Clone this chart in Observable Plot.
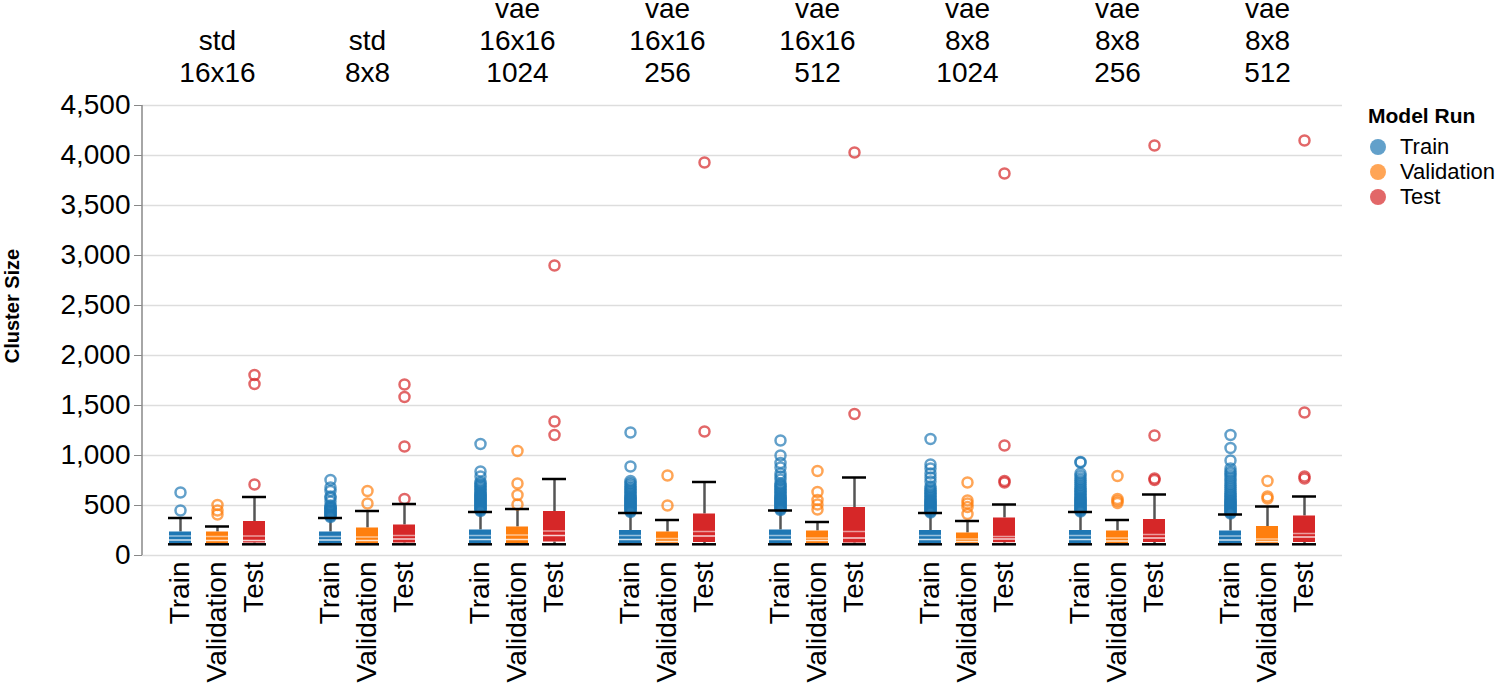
<!DOCTYPE html>
<html>
<head>
<meta charset="utf-8">
<script src="https://cdn.jsdelivr.net/npm/d3@7"></script>
<script src="https://cdn.jsdelivr.net/npm/@observablehq/plot@0.6"></script>
<style>
  body { margin: 0; background: #fff; font-family: "Liberation Sans", Arial, sans-serif; }
  #wrap { position: relative; width: 1502px; height: 690px; overflow: hidden; }
  #chart { position: absolute; left: 0; top: 0; }
  #ylabel { position: absolute; left: 12px; top: 306px; transform: translate(-50%, -50%) rotate(-90deg);
            font-weight: bold; font-size: 20px; white-space: nowrap; color: #000; }
  #legendTitle { position: absolute; left: 1368px; top: 103px; height: 25px; line-height: 25px;
                 font-weight: bold; font-size: 21px; white-space: nowrap; }
  .legItem { position: absolute; left: 1370px; height: 25px; display: flex; align-items: center;
             font-size: 22px; white-space: nowrap; }
  .legItem .sw { width: 16px; height: 16px; border-radius: 50%; margin-right: 14px; opacity: 0.7; }
</style>
</head>
<body>
<div id="wrap">
  <div id="chart"></div>
  <div id="ylabel">Cluster Size</div>
  <div id="legendTitle">Model Run</div>
  <div id="legend"></div>
</div>
<script>
// ---------- data ----------
const facetLabels = ["std\n16x16", "std\n8x8", "vae\n16x16\n1024", "vae\n16x16\n256", "vae\n16x16\n512", "vae\n8x8\n1024", "vae\n8x8\n256", "vae\n8x8\n512"];
const splits = ["Train", "Validation", "Test"];
const colors = ["#1f77b4", "#ff7f0e", "#d62728"];
const yTicks = [0, 500, 1000, 1500, 2000, 2500, 3000, 3500, 4000, 4500];

// per facet: [Train, Validation, Test]
const whiskerLow = [
  [112, 112, 112], [112, 112, 112], [112, 112, 112], [112, 112, 112],
  [112, 112, 112], [112, 112, 112], [112, 112, 112], [112, 112, 112]
];
const q1 = [
  [120, 120, 125], [120, 120, 125], [120, 120, 135], [120, 118, 130],
  [120, 120, 125], [120, 118, 128], [120, 120, 130], [120, 120, 130]
];
const median = [
  [155, 150, 150], [155, 150, 165], [160, 160, 200], [160, 140, 195],
  [160, 150, 175], [160, 140, 165], [160, 145, 175], [155, 140, 185]
];
const innerLine = [
  [195, 190, 195], [190, 185, 200], [200, 205, 245], [200, 170, 240],
  [200, 175, 240], [200, 165, 190], [200, 175, 210], [195, 165, 220]
];
const q3 = [
  [235, 235, 340], [235, 275, 305], [255, 285, 440], [250, 235, 415],
  [255, 245, 480], [250, 225, 375], [250, 245, 360], [245, 290, 395]
];
const whiskerHigh = [
  [375, 290, 585], [375, 445, 515], [435, 465, 765], [425, 355, 735],
  [450, 335, 780], [425, 345, 510], [435, 355, 610], [410, 490, 590]
];

const outliersTrain = [
  [450, 630],
  [385, 395, 405, 415, 425, 435, 445, 455, 465, 475, 485, 500, 540, 575, 590, 645, 680, 755],
  [445, 455, 465, 475, 485, 495, 505, 515, 525, 535, 545, 555, 565, 575, 585, 595, 605, 615, 630, 645, 660, 675, 690, 705, 720, 735, 790, 840, 1115],
  [435, 445, 455, 465, 475, 485, 495, 505, 515, 525, 535, 545, 555, 565, 575, 585, 600, 615, 630, 645, 660, 675, 690, 710, 725, 745, 890, 1230],
  [455, 465, 475, 485, 495, 505, 515, 525, 535, 545, 555, 565, 575, 585, 600, 615, 630, 645, 660, 675, 690, 705, 720, 760, 790, 820, 880, 925, 1000, 1150],
  [430, 440, 450, 460, 470, 480, 490, 500, 510, 520, 530, 540, 550, 560, 575, 590, 605, 620, 635, 650, 670, 690, 740, 780, 820, 870, 910, 1165],
  [440, 450, 460, 470, 480, 490, 500, 510, 520, 530, 540, 550, 560, 570, 580, 595, 610, 625, 640, 655, 670, 690, 710, 730, 750, 770, 795, 820, 930, 935],
  [420, 430, 440, 450, 460, 470, 480, 490, 500, 510, 520, 530, 540, 550, 560, 575, 590, 605, 620, 640, 660, 680, 700, 720, 745, 770, 795, 820, 840, 870, 950, 1075, 1205]
];
const outliersValidation = [
  [410, 450, 505],
  [520, 645],
  [510, 605, 720, 1045],
  [500, 800],
  [460, 510, 555, 635, 845],
  [415, 485, 520, 550, 730],
  [525, 545, 565, 795],
  [570, 590, 745]
];
const outliersTest = [
  [710, 1715, 1805],
  [565, 1090, 1585, 1710],
  [1205, 1340, 2900],
  [1240, 3930],
  [1415, 4030],
  [730, 745, 1100, 3820],
  [755, 770, 1200, 4100],
  [770, 790, 1430, 4150]
];

// ---------- tables ----------
const boxes = [];
facetLabels.forEach((f, i) => splits.forEach((s, j) => boxes.push({
  facet: f, split: s, lo: whiskerLow[i][j], q1: q1[i][j], med: median[i][j],
  inner: innerLine[i][j], q3: q3[i][j], hi: whiskerHigh[i][j]
})));
const outlierSets = [outliersTrain, outliersValidation, outliersTest];
const outliers = [];
facetLabels.forEach((f, i) => splits.forEach((s, j) =>
  outlierSets[j][i].forEach(v => outliers.push({facet: f, split: s, value: v}))));

const ML = 142;
const chart = Plot.plot({
  width: 1350,
  height: 690,
  marginLeft: ML,
  marginRight: 8,
  marginTop: 105,
  marginBottom: 135,
  style: {fontFamily: "Liberation Sans, Arial, sans-serif", fontSize: "28px", background: "white", color: "black"},
  fx: {domain: facetLabels, padding: 0},
  x: {domain: splits, paddingInner: 0.41, paddingOuter: 0.705},
  y: {domain: [0, 4500]},
  color: {domain: splits, range: colors},
  marks: [
    Plot.gridY(yTicks, {stroke: "#ddd", strokeOpacity: 1, strokeWidth: 1.5}),
    Plot.axisY({ticks: yTicks, tickFormat: d3.format(","), fontSize: 28, tickSize: 8, tickPadding: 4, stroke: "#888", strokeOpacity: 1, label: null}),
    Plot.axisX({tickRotate: -90, fontSize: 28, tickSize: 0, tickPadding: 6, label: null}),
    Plot.axisFx({anchor: "top", fontSize: 28, tickSize: 0, tickPadding: 24, lineHeight: 1.14, label: null}),
    Plot.ruleX(boxes, {fx: "facet", x: "split", y1: "lo", y2: "q1", stroke: "#555", strokeWidth: 2.5}),
    Plot.ruleX(boxes, {fx: "facet", x: "split", y1: "q3", y2: "hi", stroke: "#555", strokeWidth: 2.5}),
    Plot.barY(boxes, {fx: "facet", x: "split", y1: "q1", y2: "q3", fill: "split"}),
    Plot.tickY(boxes, {fx: "facet", x: "split", y: "inner", stroke: "white", strokeOpacity: 0.55, strokeWidth: 1.5}),
    Plot.tickY(boxes, {fx: "facet", x: "split", y: "med", stroke: "white", strokeOpacity: 0.8, strokeWidth: 1.5}),
    Plot.dot(outliers, {fx: "facet", x: "split", y: "value", stroke: "split", fill: "none", r: 5, strokeWidth: 2.5, strokeOpacity: 0.7}),
    Plot.tickY(boxes, {fx: "facet", x: "split", y: "hi", stroke: "black", strokeWidth: 2.5, insetLeft: -1, insetRight: -1}),
    Plot.tickY(boxes, {fx: "facet", x: "split", y: "lo", stroke: "black", strokeWidth: 2.5, insetLeft: -1, insetRight: -1})
  ]
});

// y axis domain line, positioned with the plot's own y scale
const ys = chart.scale("y");
d3.select(chart).append("line")
  .attr("x1", ML).attr("x2", ML)
  .attr("y1", ys.apply(4500)).attr("y2", ys.apply(0))
  .attr("stroke", "#888").attr("stroke-width", 1.5);

document.getElementById("chart").appendChild(chart);

// legend
const legend = document.getElementById("legend");
splits.forEach((s, i) => {
  const row = document.createElement("div");
  row.className = "legItem";
  row.style.top = (134 + i * 25) + "px";
  const sw = document.createElement("div");
  sw.className = "sw";
  sw.style.background = colors[i];
  const t = document.createElement("span");
  t.textContent = s;
  row.appendChild(sw); row.appendChild(t);
  legend.appendChild(row);
});
</script>
</body>
</html>
